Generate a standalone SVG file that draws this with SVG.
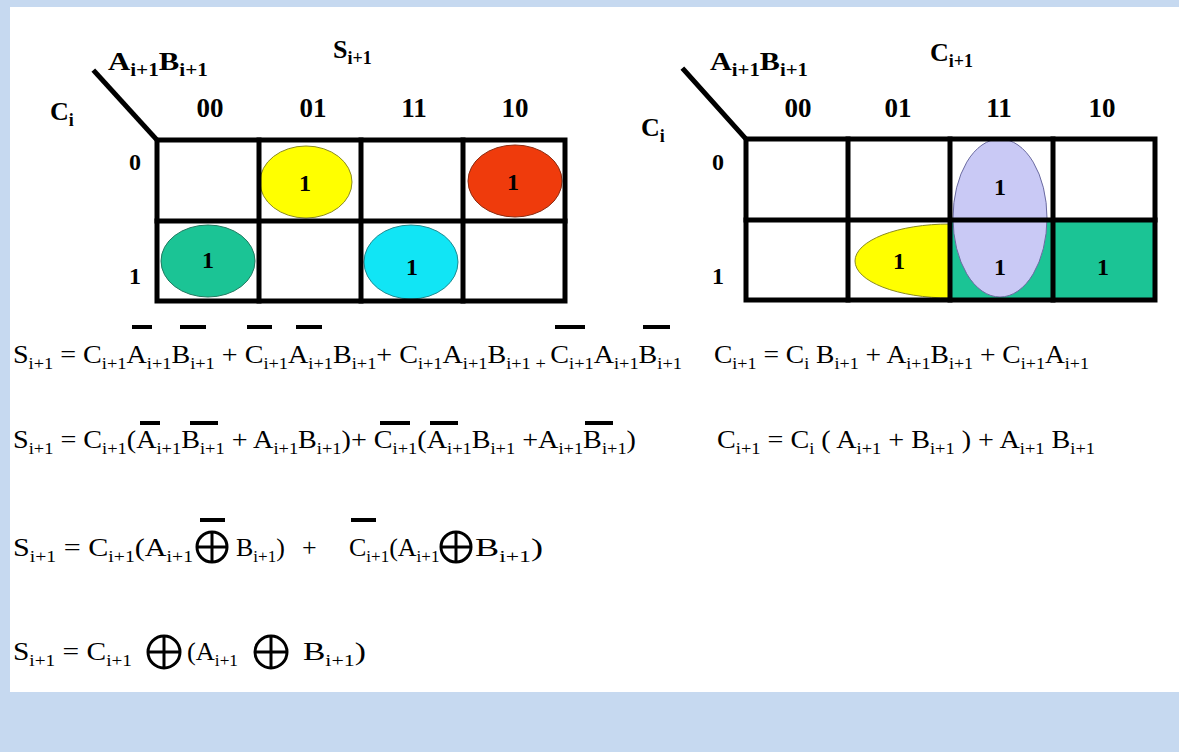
<svg xmlns="http://www.w3.org/2000/svg" width="1179" height="752" viewBox="0 0 1179 752">
<style>
.hd{font-family:"Liberation Serif","Times New Roman",serif;font-weight:bold;font-size:26px;fill:#000}
.hs{font-size:18px;baseline-shift:-6px}
.cl{font-family:"Liberation Serif","Times New Roman",serif;font-weight:bold;font-size:27px;text-anchor:middle;fill:#000}
.one{font-family:"Liberation Serif","Times New Roman",serif;font-weight:bold;font-size:24px;text-anchor:middle;fill:#000}
.eq{font-family:"Liberation Serif","Times New Roman",serif;font-size:26px;fill:#000}
.sb{font-size:17px;baseline-shift:-6px}
.grid{fill:none;stroke:#000;stroke-width:5;stroke-linecap:square}
.bar{fill:#000}
.xor{fill:none;stroke:#000;stroke-width:3}
</style>
<defs>
<g id="oplus"><circle r="15" class="xor"/><line x1="-15" y1="0" x2="15" y2="0" class="xor"/><line x1="0" y1="-15" x2="0" y2="15" class="xor"/></g>
<g id="oplus16"><circle r="16" class="xor"/><line x1="-16" y1="0" x2="16" y2="0" class="xor"/><line x1="0" y1="-16" x2="0" y2="16" class="xor"/></g>
</defs>
<rect x="0" y="0" width="1179" height="752" fill="#c6d9f0"/>
<rect x="10" y="7" width="1169" height="685" fill="#ffffff"/>

<g id="kmap-sum">
<ellipse cx="306" cy="182" rx="46" ry="36" fill="#ffff00" stroke="#8a8a20" stroke-width="1"/>
<ellipse cx="515" cy="181" rx="47" ry="36" fill="#ef3b0c" stroke="#8a2a10" stroke-width="1"/>
<ellipse cx="208" cy="261" rx="47" ry="36" fill="#1bc495" stroke="#207a60" stroke-width="1"/>
<ellipse cx="411" cy="262" rx="47" ry="37" fill="#11e5f5" stroke="#208a90" stroke-width="1"/>
<rect x="157" y="140" width="408" height="161" class="grid"/>
<line x1="259" y1="140" x2="259" y2="301" class="grid"/>
<line x1="361" y1="140" x2="361" y2="301" class="grid"/>
<line x1="463" y1="140" x2="463" y2="301" class="grid"/>
<line x1="157" y1="221" x2="565" y2="221" class="grid"/>
<line x1="95" y1="72" x2="157" y2="140" class="grid" stroke-linecap="butt"/>
<text class="hd" x="108" y="70" textLength="100" lengthAdjust="spacingAndGlyphs">A<tspan class="hs">i+1</tspan>B<tspan class="hs">i+1</tspan></text>
<text class="hd" x="333" y="58">S<tspan class="hs">i+1</tspan></text>
<text class="hd" x="50" y="120">C<tspan class="hs">i</tspan></text>
<text class="cl" x="210" y="117">00</text>
<text class="cl" x="313" y="117">01</text>
<text class="cl" x="414" y="117">11</text>
<text class="cl" x="515" y="117">10</text>
<text class="one" x="135" y="170">0</text>
<text class="one" x="135" y="284">1</text>
<text class="one" x="305" y="191">1</text>
<text class="one" x="513" y="190">1</text>
<text class="one" x="208" y="268">1</text>
<text class="one" x="412" y="275">1</text>
</g>

<g id="kmap-carry">
<rect x="950" y="220" width="103" height="80" fill="#1bc495"/>
<rect x="1053" y="220" width="102" height="80" fill="#1bc495"/>
<ellipse cx="1000" cy="218" rx="47" ry="79" fill="#c9c9f5" stroke="#6a6aa0" stroke-width="1"/>
<path d="M950 224 A95 37 0 0 0 950 298 Z" fill="#ffff00" stroke="#8a8a20" stroke-width="1"/>
<rect x="746" y="139" width="409" height="161" class="grid"/>
<line x1="848" y1="139" x2="848" y2="300" class="grid"/>
<line x1="950" y1="139" x2="950" y2="300" class="grid"/>
<line x1="1053" y1="139" x2="1053" y2="300" class="grid"/>
<line x1="746" y1="220" x2="1155" y2="220" class="grid"/>
<line x1="684" y1="70" x2="746" y2="139" class="grid" stroke-linecap="butt"/>
<text class="hd" x="710" y="70" textLength="98" lengthAdjust="spacingAndGlyphs">A<tspan class="hs">i+1</tspan>B<tspan class="hs">i+1</tspan></text>
<text class="hd" x="930" y="61">C<tspan class="hs">i+1</tspan></text>
<text class="hd" x="641" y="136">C<tspan class="hs">i</tspan></text>
<text class="cl" x="798" y="117">00</text>
<text class="cl" x="898" y="117">01</text>
<text class="cl" x="999" y="117">11</text>
<text class="cl" x="1102" y="117">10</text>
<text class="one" x="718" y="170">0</text>
<text class="one" x="718" y="284">1</text>
<text class="one" x="1000" y="195">1</text>
<text class="one" x="1000" y="275">1</text>
<text class="one" x="899" y="269">1</text>
<text class="one" x="1103" y="275">1</text>
</g>

<g id="eq1-sum">
<text class="eq" x="13" y="363" textLength="669" lengthAdjust="spacingAndGlyphs">S<tspan class="sb">i+1</tspan> = C<tspan class="sb">i+1</tspan>A<tspan class="sb">i+1</tspan>B<tspan class="sb">i+1</tspan> + C<tspan class="sb">i+1</tspan>A<tspan class="sb">i+1</tspan>B<tspan class="sb">i+1</tspan>+ C<tspan class="sb">i+1</tspan>A<tspan class="sb">i+1</tspan>B<tspan class="sb">i+1 + </tspan>C<tspan class="sb">i+1</tspan>A<tspan class="sb">i+1</tspan>B<tspan class="sb">i+1</tspan></text>
<rect class="bar" x="132" y="325" width="20" height="4"/>
<rect class="bar" x="180" y="325" width="26" height="4"/>
<rect class="bar" x="247" y="325" width="25" height="4"/>
<rect class="bar" x="296" y="325" width="26" height="4"/>
<rect class="bar" x="555" y="325" width="30" height="4"/>
<rect class="bar" x="643" y="325" width="27" height="4"/>
</g>

<g id="eq1-carry">
<text class="eq" x="714" y="363" textLength="375" lengthAdjust="spacingAndGlyphs">C<tspan class="sb">i+1</tspan> = C<tspan class="sb">i</tspan> B<tspan class="sb">i+1</tspan> + A<tspan class="sb">i+1</tspan>B<tspan class="sb">i+1</tspan> + C<tspan class="sb">i+1</tspan>A<tspan class="sb">i+1</tspan></text>
</g>

<g id="eq2-sum">
<text class="eq" x="13" y="448" textLength="623" lengthAdjust="spacingAndGlyphs">S<tspan class="sb">i+1</tspan> = C<tspan class="sb">i+1</tspan>(A<tspan class="sb">i+1</tspan>B<tspan class="sb">i+1</tspan> + A<tspan class="sb">i+1</tspan>B<tspan class="sb">i+1</tspan>)+ C<tspan class="sb">i+1</tspan>(A<tspan class="sb">i+1</tspan>B<tspan class="sb">i+1</tspan> +A<tspan class="sb">i+1</tspan>B<tspan class="sb">i+1</tspan>)</text>
<rect class="bar" x="140" y="421" width="20" height="4"/>
<rect class="bar" x="190" y="421" width="28" height="4"/>
<rect class="bar" x="380" y="421" width="30" height="4"/>
<rect class="bar" x="430" y="421" width="28" height="4"/>
<rect class="bar" x="585" y="421" width="28" height="4"/>
</g>

<g id="eq2-carry">
<text class="eq" x="717" y="448" textLength="378" lengthAdjust="spacingAndGlyphs">C<tspan class="sb">i+1</tspan> = C<tspan class="sb">i</tspan> ( A<tspan class="sb">i+1</tspan> + B<tspan class="sb">i+1</tspan> ) + A<tspan class="sb">i+1</tspan> B<tspan class="sb">i+1</tspan></text>
</g>

<g id="eq3-sum">
<text class="eq" x="13" y="556" textLength="180" lengthAdjust="spacingAndGlyphs">S<tspan class="sb">i+1</tspan> = C<tspan class="sb">i+1</tspan>(A<tspan class="sb">i+1</tspan></text>
<use href="#oplus" x="212" y="547"/>
<rect class="bar" x="200" y="518" width="25" height="4"/>
<text class="eq" x="236" y="556">B<tspan class="sb">i+1</tspan>)</text>
<text class="eq" x="302" y="556">+</text>
<text class="eq" x="349" y="556">C<tspan class="sb">i+1</tspan>(A<tspan class="sb">i+1</tspan></text>
<rect class="bar" x="351" y="518" width="25" height="4"/>
<use href="#oplus" x="456" y="547"/>
<text class="eq" x="475" y="556" textLength="68" lengthAdjust="spacingAndGlyphs">B<tspan class="sb">i+1</tspan>)</text>
</g>

<g id="eq4-sum">
<text class="eq" x="13" y="660" textLength="119" lengthAdjust="spacingAndGlyphs">S<tspan class="sb">i+1</tspan> = C<tspan class="sb">i+1</tspan></text>
<use href="#oplus16" x="164" y="652"/>
<text class="eq" x="187" y="660" textLength="51" lengthAdjust="spacingAndGlyphs">(A<tspan class="sb">i+1</tspan></text>
<use href="#oplus16" x="271" y="652"/>
<text class="eq" x="303" y="660" textLength="63" lengthAdjust="spacingAndGlyphs">B<tspan class="sb">i+1</tspan>)</text>
</g>
</svg>
